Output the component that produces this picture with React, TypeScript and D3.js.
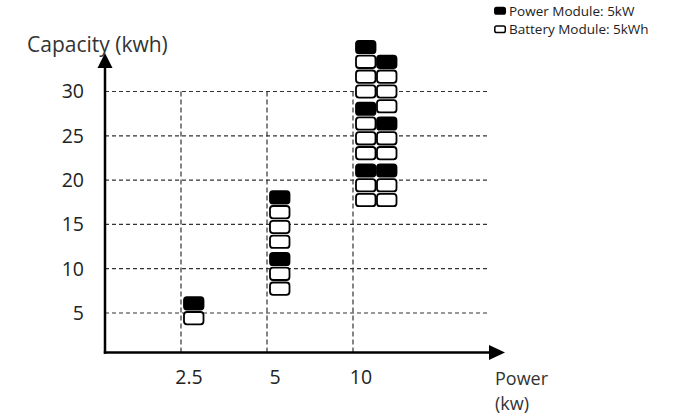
import * as React from 'react';
import * as d3 from 'd3';

const powerTicks = ['2.5', '5', '10'];
const capacityTicks = [5, 10, 15, 20, 25, 30];

// one stack of modules per lane; each group = 1 power module on top of N battery modules (listed bottom to top)
const stackPower = ['2.5', '5', '10', '10'];
const stackLane = [0, 0, 0, 1];
const stackGroups = [[1], [2, 3], [2, 3, 3], [2, 2, 3]];

const moduleKwh = 5;
const legendLabels = ['Power Module: 5kW', 'Battery Module: 5kWh'];
const xTitleLines = ['Power', '(kw)'];

const W = 685;
const H = 418;
const axisX = 105;
const axisY = 352.5;
const font = '"Open Sans", "Noto Sans", sans-serif';
const pitch = 14.8;
const gap = 2.5;
const groupGap = 2.5;

type Block = { power: string; lane: number; kind: 'power' | 'battery'; top: number };

export default function App() {
  const x = d3.scalePoint<string>().domain(powerTicks).range([181, 353]);
  const y = d3.scaleLinear().domain([5, 30]).range([313, 91.5]);

  const blocks: Block[] = [];
  stackPower.forEach((p, s) => {
    // the lowest configuration of the column sits on its capacity line
    const base = d3.sum(stackPower.map((q, t) => (q === p ? stackGroups[t][0] : 0))) * moduleKwh;
    let cursor = y(base) - 1 + stackGroups[s][0] * pitch;
    stackGroups[s].forEach(n => {
      for (let i = 0; i < n; i++) {
        blocks.push({ power: p, lane: stackLane[s], kind: 'battery', top: cursor - pitch });
        cursor -= pitch;
      }
      blocks.push({ power: p, lane: stackLane[s], kind: 'power', top: cursor - pitch });
      cursor -= pitch + groupGap;
    });
  });

  const dash = '#333';
  return (
    <svg width={W} height={H} style={{ position: 'absolute', left: 0, top: 0, background: '#fff' }} fontFamily={font}>
      {/* grid */}
      {capacityTicks.map(v => (
        <line key={'h' + v} x1={axisX} x2={490} y1={y(v)} y2={y(v)} stroke={dash} strokeWidth={1.2} strokeDasharray="4,3" />
      ))}
      {powerTicks.map(p => (
        <line key={'v' + p} x1={x(p)} x2={x(p)} y1={y(30)} y2={axisY} stroke={dash} strokeWidth={1.2} strokeDasharray="5,3" />
      ))}

      {/* axes */}
      <line x1={axisX} x2={axisX} y1={axisY + 1.2} y2={62} stroke="#000" strokeWidth={2.5} />
      <path d={`M${axisX},53 L${axisX - 7.5},68 L${axisX + 7.5},68 Z`} fill="#000" />
      <line x1={axisX - 1.2} x2={492} y1={axisY} y2={axisY} stroke="#000" strokeWidth={2.5} />
      <path d={`M505,${axisY} L489,${axisY - 7.5} L489,${axisY + 7.5} Z`} fill="#000" />

      {/* tick labels */}
      {capacityTicks.map(v => (
        <text key={'yl' + v} x={84} y={y(v)} dy="0.35em" textAnchor="end" fontSize={19.5} fill="#222">{v}</text>
      ))}
      {powerTicks.map(p => (
        <text key={'xl' + p} x={(x(p) as number) + 8} y={384} textAnchor="middle" fontSize={19.5} fill="#222">{p}</text>
      ))}
      <text x={27} y={52} fontSize={21} fill="#333">Capacity (kwh)</text>
      {xTitleLines.map((t, i) => (
        <text key={t} x={495} y={385 + i * 25} fontSize={18} fill="#333">{t}</text>
      ))}

      {/* modules */}
      {blocks.map((b, i) => (
        <rect
          key={i}
          x={(x(b.power) as number) + 3 + b.lane * 21}
          y={b.top}
          width={19.5}
          height={pitch - gap}
          rx={3}
          fill={b.kind === 'power' ? '#000' : '#fff'}
          stroke="#000"
          strokeWidth={1.8}
        />
      ))}

      {/* legend */}
      {legendLabels.map((l, i) => (
        <g key={l} transform={`translate(494,${7 + i * 18.5})`}>
          <rect x={0.8} y={0.5} width={10.5} height={6.5} rx={1.8} fill={i === 0 ? '#000' : '#fff'} stroke="#000" strokeWidth={1.5} />
          <text x={15} y={8.5} fontSize={13.5} fill="#222">{l}</text>
        </g>
      ))}
    </svg>
  );
}
